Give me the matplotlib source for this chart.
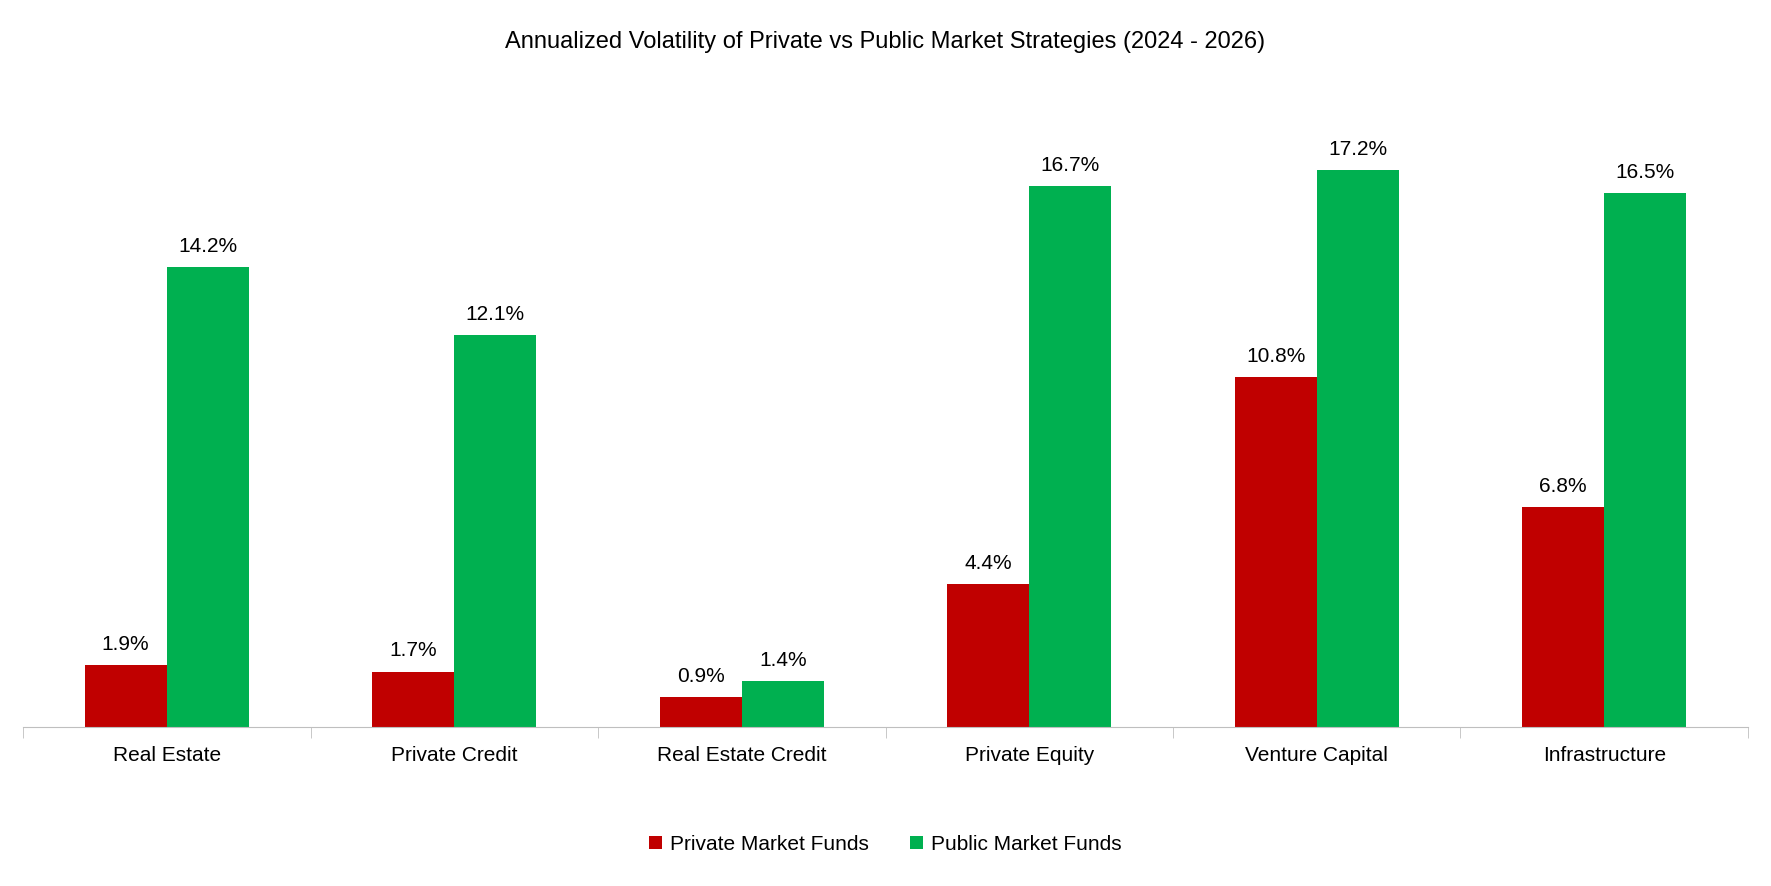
import numpy as np
import matplotlib.pyplot as plt

plt.rcParams['font.family'] = ['Liberation Sans', 'DejaVu Sans']

categories = ['Real Estate', 'Private Credit', 'Real Estate Credit', 'Private Equity', 'Venture Capital', 'Infrastructure']
private_funds = [1.9, 1.7, 0.9, 4.4, 10.8, 6.8]
public_funds = [14.2, 12.1, 1.4, 16.7, 17.2, 16.5]

fig = plt.figure(figsize=(17.71, 8.86), dpi=100)
ax = fig.add_axes([0.013, 0.18, 0.974, 0.73])

x = np.arange(len(categories))
w = 0.286
b1 = ax.bar(x - w / 2, private_funds, w, color='#C00000', label='Private Market Funds')
b2 = ax.bar(x + w / 2, public_funds, w, color='#00B050', label='Public Market Funds')
for bars in (b1, b2):
    ax.bar_label(bars, labels=[f'{v:.1f}%' for v in bars.datavalues], padding=8, fontsize=15)

ax.set_xlim(-0.5, len(categories) - 0.5)
ax.set_ylim(0, 20)
ax.set_yticks([])
ax.set_xticks(x)
ax.set_xticklabels(categories, fontsize=15)
ax.tick_params(axis='x', length=0, pad=14)
ax.set_xticks(np.arange(len(categories) + 1) - 0.5, minor=True)
ax.tick_params(axis='x', which='minor', length=8, color='#BFBFBF')
for s in ['top', 'right', 'left']:
    ax.spines[s].set_visible(False)
ax.spines['bottom'].set_color('#BFBFBF')

fig.suptitle('Annualized Volatility of Private vs Public Market Strategies (2024 - 2026)', fontsize=17, y=0.965)
fig.legend(loc='lower center', bbox_to_anchor=(0.5, 0.015), ncol=2, frameon=False, fontsize=15,
           handlelength=0.6, handleheight=0.6, columnspacing=2.0, handletextpad=0.4)

fig.savefig('out.png', dpi=100)
